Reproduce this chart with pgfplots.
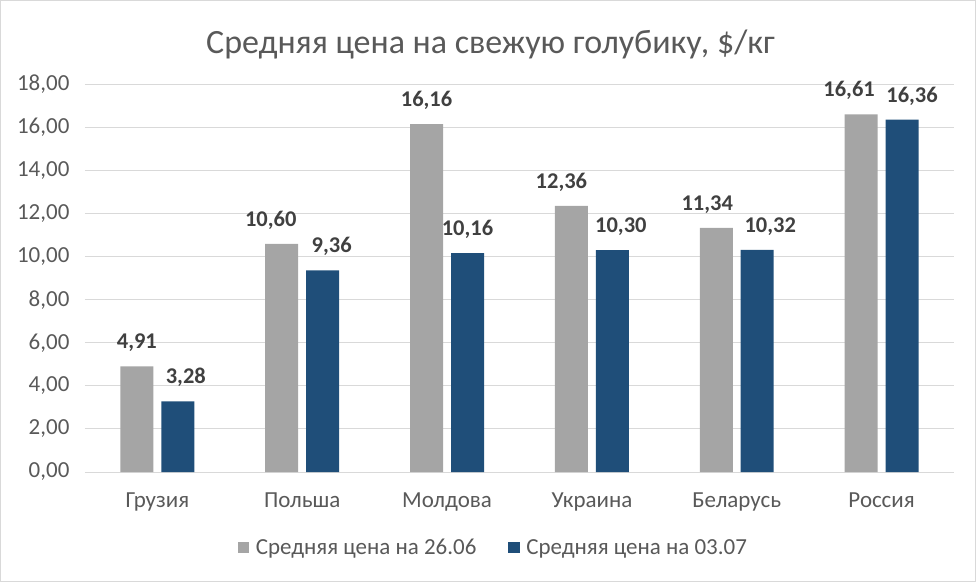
\documentclass[border=0pt]{standalone}
\usepackage{pgfplots}
\usepackage{pgfplotstable}
\pgfplotsset{compat=1.18}
\usepackage{fontspec}
\setmainfont{Carlito}
\definecolor{seriesA}{HTML}{A5A5A5}
\definecolor{seriesB}{HTML}{1F4E79}
\definecolor{txt}{HTML}{595959}
\definecolor{lbl}{HTML}{404040}
\definecolor{gridc}{HTML}{D9D9D9}

% x, value, label shift (as Excel pushes labels apart)
\pgfplotstableread{
x  y      dx
0  4.91   0
1  10.60  -11
2  16.16  0
3  12.36  -10
4  11.34  -9
5  16.61  -12
}\juneA
\pgfplotstableread{
x  y      dx
0  3.28   8
1  9.36   9
2  10.16  0
3  10.30  8.5
4  10.32  13
5  16.36  10
}\julyB

\begin{document}
\begin{tikzpicture}[x=1pt,y=1pt]
  % chart frame
  \draw[gridc, line width=1pt] (0,0) rectangle (976,582);
  \begin{axis}[
    at={(84.5pt,110pt)}, anchor=south west,
    scale only axis,
    width=870pt, height=388pt,
    ybar, bar width=33pt,
    ybar=8pt,
    xmin=-0.5, xmax=5.5,
    ymin=0, ymax=18,
    axis line style={draw=none},
    ymajorgrids, grid style={gridc, line width=1pt},
    xtick={0,1,2,3,4,5},
    xticklabels={Грузия,Польша,Молдова,Украина,Беларусь,Россия},
    ytick={0,2,...,18},
    major tick length=0pt,
    tick style={draw=none},
    /pgf/number format/assume math mode=true,
    yticklabel={\pgfmathprintnumber[fixed,fixed zerofill,precision=2,use comma]{\tick}},
    tick label style={font=\fontsize{23}{26}\selectfont, text=txt},
    xticklabel style={yshift=-17pt},
    yticklabel style={xshift=-12pt},
    nodes near coords,
    visualization depends on={\thisrow{dx} \as \dx},
    nodes near coords style={font=\bfseries\fontsize{22.5}{25}\selectfont, text=lbl,
      yshift=11pt, xshift=\dx pt,
      /pgf/number format/.cd, fixed, fixed zerofill, precision=2, use comma, assume math mode=true},
    title={Средняя цена на свежую голубику, \$/кг},
    title style={font=\fontsize{34}{38}\selectfont, text=txt, yshift=16pt, xshift=-29pt},
    legend columns=2,
    legend style={at={(0.470,-0.196)}, anchor=center, draw=none,
      font=\fontsize{23}{26}\selectfont, text=txt,
      /tikz/every even column/.append style={column sep=30pt}},
    legend image code/.code={\fill[#1] (0pt,-5.5pt) rectangle (11.5pt,5.5pt); \path (16pt,0pt);},
    clip=false,
  ]
    \addplot[fill=seriesA, draw=none] table[x=x, y=y] {\juneA};
    \addlegendentry{Средняя цена на 26.06}
    \addplot[fill=seriesB, draw=none] table[x=x, y=y] {\julyB};
    \addlegendentry{Средняя цена на 03.07}
  \end{axis}
\end{tikzpicture}
\end{document}
